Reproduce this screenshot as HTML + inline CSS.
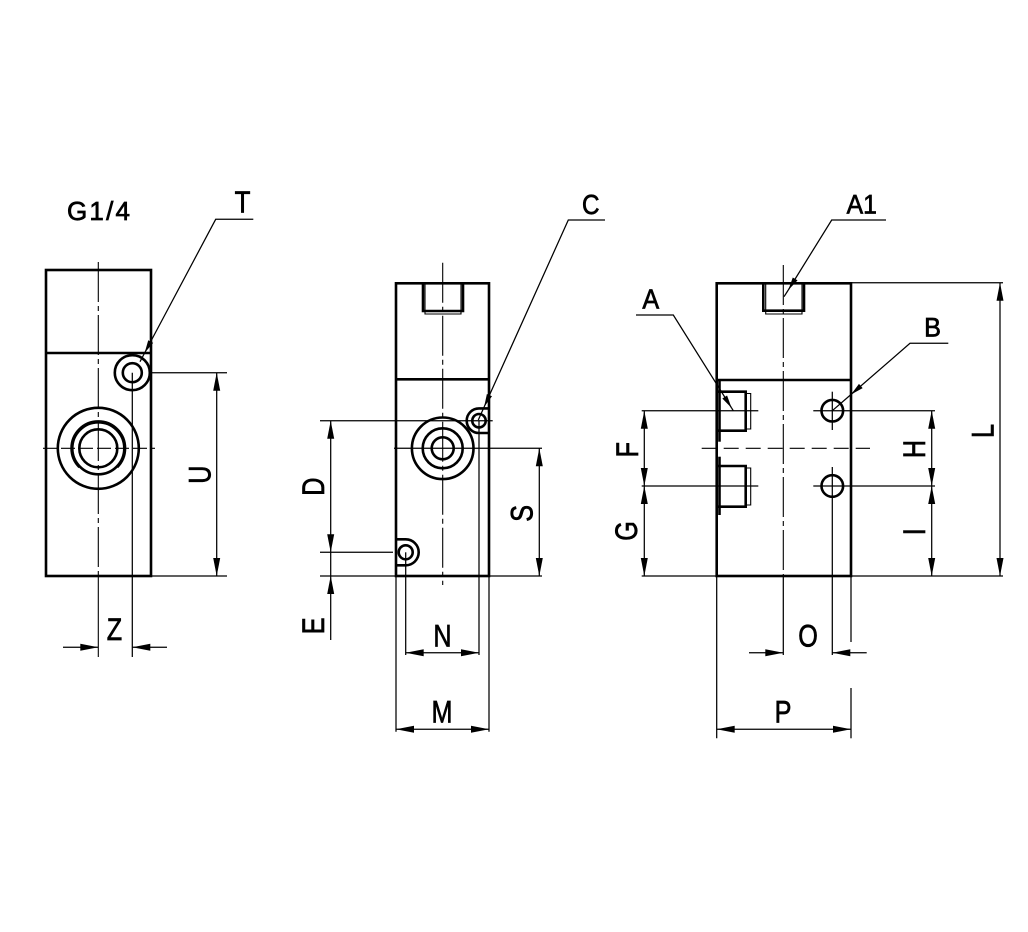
<!DOCTYPE html>
<html><head><meta charset="utf-8"><style>
html,body{margin:0;padding:0;background:#fff;}
svg{display:block;}
text{font-family:"Liberation Sans",sans-serif;fill:#000;stroke:#000;stroke-width:0.7;}
</style></head><body>
<svg width="1028" height="932" viewBox="0 0 1028 932" xmlns="http://www.w3.org/2000/svg">
<defs>
<marker id="a" viewBox="-19 -4 20 8" refX="0" refY="0" markerWidth="20" markerHeight="8" markerUnits="userSpaceOnUse" orient="auto-start-reverse"><path d="M0,0 L-18,-3.5 L-18,3.5 Z" fill="#000"/></marker>
<marker id="l" viewBox="-14 -4 15 8" refX="0" refY="0" markerWidth="15" markerHeight="8" markerUnits="userSpaceOnUse" orient="auto"><path d="M0,0 L-13,-2.8 L-13,2.8 Z" fill="#000"/></marker>
</defs>
<rect width="1028" height="932" fill="#fff"/>

<!-- ============ LEFT VIEW ============ -->
<g fill="none" stroke="#000" stroke-width="2.6">
  <rect x="46" y="270" width="105" height="306"/>
  <line x1="46" y1="353" x2="151" y2="353"/>
  <circle cx="98.3" cy="448.3" r="40.5"/>
  <circle cx="98.3" cy="448.3" r="26"/>
  <circle cx="98.3" cy="448.3" r="19"/>
  <circle cx="132.3" cy="372.7" r="17.5"/>
  <circle cx="132.3" cy="372.7" r="9.5"/>
</g>
<g fill="none" stroke="#000" stroke-width="1.1">
  <path d="M78.9,467.7 A27.5,27.5 0 1 1 117.7,467.7"/>
  <line x1="98.3" y1="262" x2="98.3" y2="576" stroke-dasharray="40,4,5,4"/>
  <line x1="98.3" y1="576" x2="98.3" y2="657"/>
  <line x1="43" y1="448.3" x2="155" y2="448.3" stroke-dasharray="14,4"/>
</g>
<g fill="none" stroke="#000" stroke-width="1.25">
  <line x1="150" y1="372.7" x2="227" y2="372.7"/>
  <line x1="151" y1="576" x2="227" y2="576"/>
  <line x1="132.3" y1="372.7" x2="132.3" y2="657"/>
  <line x1="216.7" y1="372.7" x2="216.7" y2="576" marker-start="url(#a)" marker-end="url(#a)"/>
  <line x1="63" y1="647.3" x2="98.3" y2="647.3" marker-end="url(#a)"/>
  <line x1="167" y1="647.3" x2="132.3" y2="647.3" marker-end="url(#a)"/>
  <polyline points="253.3,219.3 215.7,219.3 144.6,353" marker-end="url(#l)"/>
  <line x1="144.6" y1="353" x2="140" y2="361.7"/>
</g>
<text x="67" y="220" font-size="26" textLength="63" lengthAdjust="spacing">G1/4</text>
<text transform="translate(242.5,212.7) scale(0.85,1)" text-anchor="middle" font-size="30.5">T</text>
<text transform="translate(199.5,474.7) rotate(-90) scale(0.8,1)" y="10.8" text-anchor="middle" font-size="31.5">U</text>
<text transform="translate(114.5,640) scale(0.8,1)" text-anchor="middle" font-size="31.5">Z</text>

<!-- ============ MIDDLE VIEW ============ -->
<g fill="none" stroke="#000" stroke-width="2.6">
  <rect x="396" y="283.3" width="93" height="292.7"/>
  <line x1="396" y1="379.3" x2="489" y2="379.3"/>
  <path d="M423,283.3 V311 H463 V283.3"/>
  <circle cx="442.7" cy="448.3" r="30.8"/>
  <circle cx="442.7" cy="448.3" r="20"/>
  <circle cx="442.7" cy="448.3" r="11"/>
  <path d="M489,408.4 H479 A12.3,12.3 0 0 0 479,433 H489"/>
  <circle cx="479" cy="420.7" r="6.7"/>
  <path d="M396,539.3 H405.7 A13,13 0 0 1 405.7,565.3 H396"/>
  <circle cx="405.7" cy="552.3" r="7"/>
</g>
<g fill="none" stroke="#000" stroke-width="1.1">
  <path d="M425,283.3 V314 H461 V283.3"/>
  <line x1="442.7" y1="262.7" x2="442.7" y2="585" stroke-dasharray="40,4,5,4"/>
</g>
<g fill="none" stroke="#000" stroke-width="1.25">
  <line x1="394" y1="448.3" x2="542" y2="448.3"/>
  <line x1="320" y1="420.7" x2="492.7" y2="420.7"/>
  <line x1="320" y1="552.3" x2="393" y2="552.3"/>
  <line x1="320" y1="576" x2="542" y2="576"/>
  <line x1="396" y1="576" x2="396" y2="731.7"/>
  <line x1="489" y1="576" x2="489" y2="731.7"/>
  <line x1="405.7" y1="552.3" x2="405.7" y2="655"/>
  <line x1="479" y1="420.7" x2="479" y2="655"/>
  <line x1="330.7" y1="420.7" x2="330.7" y2="552.3" marker-start="url(#a)" marker-end="url(#a)"/>
  <line x1="330.7" y1="552.3" x2="330.7" y2="576"/>
  <line x1="330.7" y1="640" x2="330.7" y2="576" marker-end="url(#a)"/>
  <line x1="539.3" y1="448.3" x2="539.3" y2="576" marker-start="url(#a)" marker-end="url(#a)"/>
  <line x1="405.7" y1="652.7" x2="479" y2="652.7" marker-start="url(#a)" marker-end="url(#a)"/>
  <line x1="396" y1="729.3" x2="489" y2="729.3" marker-start="url(#a)" marker-end="url(#a)"/>
  <polyline points="605,220 568.3,220 484.1,407" marker-end="url(#l)"/>
  <line x1="484.1" y1="407" x2="478.3" y2="420"/>
</g>
<text transform="translate(590.8,214) scale(0.88,1)" text-anchor="middle" font-size="27.6">C</text>
<text transform="translate(313.3,486.7) rotate(-90) scale(0.8,1)" y="10.8" text-anchor="middle" font-size="31.5">D</text>
<text transform="translate(521.7,513.3) rotate(-90) scale(0.8,1)" y="10.8" text-anchor="middle" font-size="31.5">S</text>
<text transform="translate(313.3,625.8) rotate(-90) scale(0.8,1)" y="10.8" text-anchor="middle" font-size="31.5">E</text>
<text transform="translate(442.5,646.7) scale(0.8,1)" text-anchor="middle" font-size="31.5">N</text>
<text transform="translate(442,722.7) scale(0.8,1)" text-anchor="middle" font-size="31.5">M</text>

<!-- ============ RIGHT VIEW ============ -->
<g fill="none" stroke="#000" stroke-width="2.6">
  <rect x="716.7" y="283.3" width="134.3" height="292.7"/>
  <line x1="716.7" y1="380" x2="851" y2="380"/>
  <path d="M763.3,283.3 V310.7 H804 V283.3"/>
  <path d="M716.7,391.7 H745.7 V430.7 H716.7"/>
  <path d="M716.7,466 H745.7 V506.7 H716.7"/>
  <line x1="719.5" y1="380" x2="719.5" y2="441.7"/>
  <line x1="719.5" y1="456.7" x2="719.5" y2="515"/>
  <circle cx="832.3" cy="410.7" r="10.8"/>
  <circle cx="832.3" cy="486" r="10.8"/>
</g>
<g fill="none" stroke="#000" stroke-width="1.1">
  <path d="M765.7,283.3 V314 H802 V283.3"/>
  <path d="M745.7,393.5 H750.7 V429 H745.7"/>
  <path d="M745.7,468 H750.7 V505 H745.7"/>
  <line x1="783.3" y1="265" x2="783.3" y2="576" stroke-dasharray="40,4,5,4"/>
  <line x1="701.7" y1="448.3" x2="870" y2="448.3" stroke-dasharray="15,7"/>
</g>
<g fill="none" stroke="#000" stroke-width="1.25">
  <line x1="783.3" y1="576" x2="783.3" y2="655"/>
  <line x1="832.3" y1="391.7" x2="832.3" y2="430"/>
  <line x1="832.3" y1="467" x2="832.3" y2="655"/>
  <line x1="641.7" y1="410.7" x2="758.3" y2="410.7"/>
  <line x1="813.3" y1="410.7" x2="935" y2="410.7"/>
  <line x1="641.7" y1="486" x2="758.3" y2="486"/>
  <line x1="813.3" y1="486" x2="935" y2="486"/>
  <line x1="641.7" y1="576" x2="716.7" y2="576"/>
  <line x1="851" y1="576" x2="1003" y2="576"/>
  <line x1="851" y1="282.7" x2="1003" y2="282.7"/>
  <line x1="716.7" y1="576" x2="716.7" y2="738.3"/>
  <line x1="851" y1="576" x2="851" y2="642"/>
  <line x1="851" y1="688" x2="851" y2="738.3"/>
  <line x1="644.3" y1="410.7" x2="644.3" y2="486" marker-start="url(#a)" marker-end="url(#a)"/>
  <line x1="644.3" y1="486" x2="644.3" y2="576" marker-start="url(#a)" marker-end="url(#a)"/>
  <line x1="931.7" y1="410.7" x2="931.7" y2="486" marker-start="url(#a)" marker-end="url(#a)"/>
  <line x1="931.7" y1="486" x2="931.7" y2="576" marker-start="url(#a)" marker-end="url(#a)"/>
  <line x1="1000" y1="282.7" x2="1000" y2="576" marker-start="url(#a)" marker-end="url(#a)"/>
  <line x1="749" y1="652.7" x2="783.3" y2="652.7" marker-end="url(#a)"/>
  <line x1="866.7" y1="652.7" x2="832.3" y2="652.7" marker-end="url(#a)"/>
  <line x1="716.7" y1="729.3" x2="851" y2="729.3" marker-start="url(#a)" marker-end="url(#a)"/>
  <polyline points="886,220 831.7,220 788.3,290" marker-end="url(#l)"/>
  <line x1="788.3" y1="290" x2="784" y2="296.7"/>
  <polyline points="636,315 673.3,315 731.6,408" marker-end="url(#l)"/>
  <line x1="731.6" y1="408" x2="733.3" y2="410.7"/>
  <polyline points="948.3,343.3 910,343.3 851,394.5" marker-end="url(#l)"/>
  <line x1="851" y1="394.5" x2="832.3" y2="410.7"/>
</g>
<text transform="translate(861.7,213.3) scale(0.93,1)" text-anchor="middle" font-size="26.6">A1</text>
<text transform="translate(650.8,308.3) scale(0.9,1)" text-anchor="middle" font-size="28">A</text>
<text transform="translate(932.5,336.7) scale(0.95,1)" text-anchor="middle" font-size="26.6">B</text>
<text transform="translate(627,449.7) rotate(-90) scale(0.8,1)" y="10.8" text-anchor="middle" font-size="31.5">F</text>
<text transform="translate(626,531) rotate(-90) scale(0.8,1)" y="10.8" text-anchor="middle" font-size="31.5">G</text>
<text transform="translate(914,449) rotate(-90) scale(0.8,1)" y="10.8" text-anchor="middle" font-size="31.5">H</text>
<text transform="translate(914,531.7) rotate(-90) scale(0.8,1)" y="10.8" text-anchor="middle" font-size="31.5">I</text>
<text transform="translate(982.5,431) rotate(-90) scale(0.8,1)" y="10.8" text-anchor="middle" font-size="31.5">L</text>
<text transform="translate(808,646.7) scale(0.8,1)" text-anchor="middle" font-size="31.5">O</text>
<text transform="translate(783,722.7) scale(0.8,1)" text-anchor="middle" font-size="31.5">P</text>
</svg>
</body></html>
